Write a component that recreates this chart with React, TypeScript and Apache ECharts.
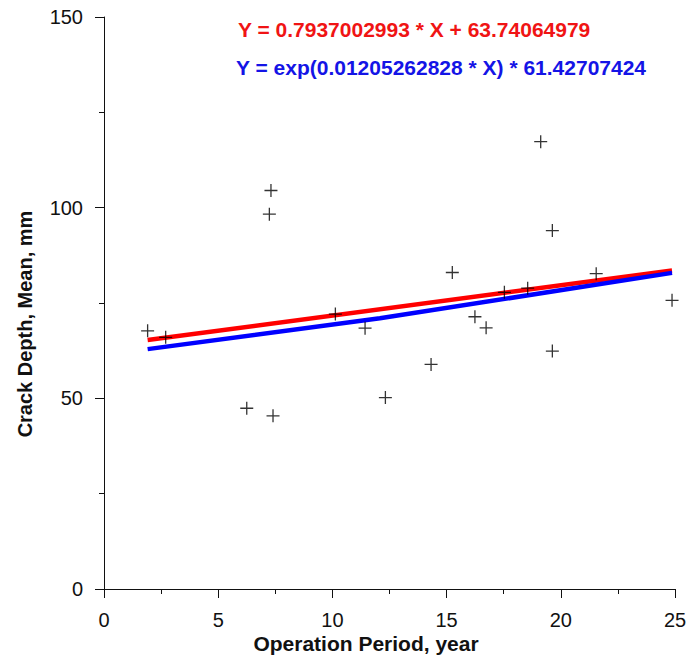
import React, { useEffect, useRef } from "react";
import * as echarts from "echarts";

const years = [1.91, 2.7, 6.25, 7.31, 7.24, 7.4, 10.13, 11.43, 12.32, 14.32, 15.25, 16.24, 16.73, 17.53, 18.55, 19.12, 19.63, 19.63, 21.55, 24.87];
const depths = [67.7, 66.0, 47.4, 104.5, 98.3, 45.4, 72.1, 68.4, 50.2, 58.9, 83.0, 71.4, 68.5, 77.8, 78.9, 117.3, 94.0, 62.4, 82.7, 75.7];

// Fitted lines
const linearX = [1.91, 24.87];
const linearY = [65.3, 83.5];
const expX = [1.91, 12.08, 24.87];
const expY = [62.9, 71.0, 82.9];

const linearEq = "Y = 0.7937002993 * X + 63.74064979";
const expEq = "Y = exp(0.01205262828 * X) * 61.42707424";
const xTitle = "Operation Period, year";
const yTitle = "Crack Depth, Mean, mm";

const FONT = '"Liberation Sans", Arial, sans-serif';
const PLUS = "path://M0,5.4H12V6.6H0Z M5.4,0H6.6V12H5.4Z";

export default function App() {
  const ref = useRef<HTMLDivElement>(null);
  useEffect(() => {
    if (!ref.current) return;
    const chart = echarts.init(ref.current, null, { renderer: "svg" });
    const axisCommon = {
      axisLine: { show: true, onZero: false, lineStyle: { color: "#111", width: 1 } },
      axisTick: { show: true, inside: false, length: 9, lineStyle: { color: "#111", width: 1 } },
      minorTick: { show: true, splitNumber: 2, length: 5, lineStyle: { color: "#111", width: 1 } },
      splitLine: { show: false },
      axisLabel: { color: "#111", fontFamily: FONT, fontSize: 20 },
    };
    chart.setOption({
      animation: false,
      backgroundColor: "#ffffff",
      grid: { left: 104, right: 15, top: 17, bottom: 72, containLabel: false },
      xAxis: {
        type: "value",
        min: 0,
        max: 25,
        interval: 5,
        ...axisCommon,
        axisLabel: { ...axisCommon.axisLabel, margin: 21 },
      },
      yAxis: {
        type: "value",
        min: 0,
        max: 150,
        interval: 50,
        ...axisCommon,
        axisLabel: { ...axisCommon.axisLabel, margin: 21 },
      },
      graphic: [
        {
          type: "text",
          left: 238,
          top: 19,
          style: { text: linearEq, fill: "#f01414", font: `bold 21px ${FONT}` },
        },
        {
          type: "text",
          left: 236,
          top: 57,
          style: { text: expEq, fill: "#1414e6", font: `bold 21px ${FONT}` },
        },
        {
          type: "text",
          x: 366,
          y: 643,
          style: { text: xTitle, fill: "#111", font: `bold 21px ${FONT}`, align: "center", verticalAlign: "middle" },
        },
        {
          type: "text",
          x: 25,
          y: 324,
          rotation: Math.PI / 2,
          style: { text: yTitle, fill: "#111", font: `bold 20px ${FONT}`, align: "center", verticalAlign: "middle" },
        },
      ],
      series: [
        {
          type: "line",
          data: linearX.map((x, i) => [x, linearY[i]]),
          showSymbol: false,
          lineStyle: { color: "#ff0000", width: 4.5 },
          z: 2,
        },
        {
          type: "line",
          data: expX.map((x, i) => [x, expY[i]]),
          showSymbol: false,
          smooth: false,
          lineStyle: { color: "#0000ff", width: 4.5 },
          z: 3,
        },
        {
          type: "scatter",
          data: years.map((x, i) => [x, depths[i]]),
          symbol: PLUS,
          symbolSize: 13,
          itemStyle: { color: "#000" },
          z: 4,
        },
      ],
    });
    return () => chart.dispose();
  }, []);
  return (
    <div
      ref={ref}
      style={{ position: "fixed", left: 0, top: 0, width: 690, height: 661, background: "#fff" }}
    />
  );
}
